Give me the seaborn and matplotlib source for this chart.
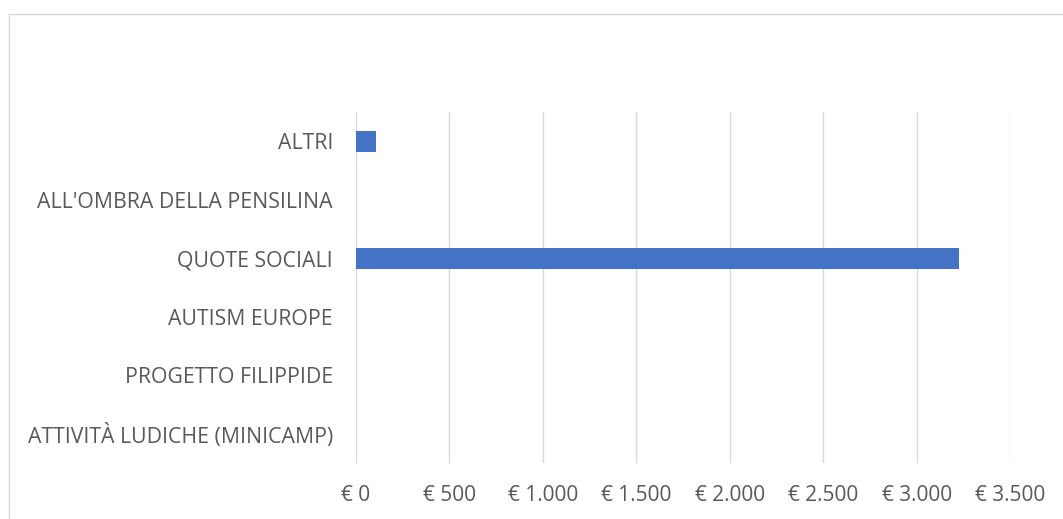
import matplotlib
matplotlib.use("Agg")
import matplotlib.pyplot as plt
import seaborn as sns
import pandas as pd
from matplotlib.ticker import FuncFormatter, MultipleLocator
from matplotlib.patches import Rectangle

categories = ["ALTRI", "ALL'OMBRA DELLA PENSILINA", "QUOTE SOCIALI",
              "AUTISM EUROPE", "PROGETTO FILIPPIDE", "ATTIVITÀ LUDICHE (MINICAMP)"]
values = [105, 0, 3225, 0, 0, 0]

df = pd.DataFrame({"categoria": categories, "importo": values})

sns.set_theme(style="white")
plt.rcParams['font.family'] = ['Open Sans', 'DejaVu Sans']

fig = plt.figure(figsize=(10.63, 5.19), dpi=100)
ax = fig.add_axes([356/1063, 1-463/519, (1010-356)/1063, (463-112)/519])

sns.barplot(data=df, x="importo", y="categoria", orient="h", color="#4472C4",
            width=0.36, saturation=1, linewidth=0, ax=ax, order=categories)

ax.set_xlim(0, 3500)
ax.xaxis.set_major_locator(MultipleLocator(500))
ax.xaxis.set_major_formatter(FuncFormatter(lambda v, p: "€ " + f"{int(v):,}".replace(",", ".")))
ax.grid(axis="x", color="#D9D9D9", linewidth=1.0)
ax.set_axisbelow(True)
for s in ax.spines.values():
    s.set_visible(False)
ax.set_xlabel("")
ax.set_ylabel("")
ax.tick_params(axis="both", length=0, labelcolor="#595959")
ax.tick_params(axis="y", pad=16.5, labelsize=15.3)
ax.tick_params(axis="x", pad=16, labelsize=15)

fig.patches.append(Rectangle((9/1063, -0.1), 1.2, 1 - 13.5/519 + 0.1, transform=fig.transFigure,
                             fill=False, edgecolor="#D9D9D9", linewidth=1.0))

fig.savefig("out.png", dpi=100)
